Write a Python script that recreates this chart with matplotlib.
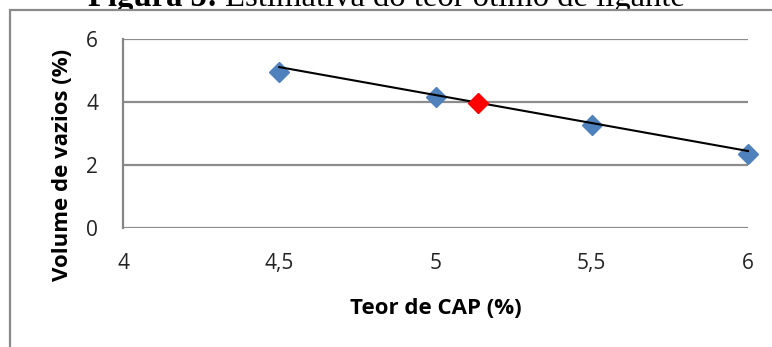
import matplotlib
matplotlib.use("Agg")
import matplotlib.pyplot as plt
from matplotlib.patches import Rectangle

# Data
teor_cap = [4.5, 5.0, 5.5, 6.0]
volume_vazios = [4.94, 4.16, 3.27, 2.35]
otimo_x = [5.135]
otimo_y = [3.97]
trend_x = [4.5, 6.0]
trend_y = [5.11, 2.45]
xticks = [4, 4.5, 5, 5.5, 6]
xtick_labels = ["4", "4,5", "5", "5,5", "6"]
yticks = [0, 2, 4, 6]
ytick_labels = ["0", "2", "4", "6"]

W, H = 772, 347
fig = plt.figure(figsize=(W / 100, H / 100), dpi=100)
fig.patch.set_facecolor("white")

# caption (partly hidden by the chart frame, as in the reference)
fig.text(218 / W, 1 - 6 / H, "Figura 5:", fontfamily="Liberation Serif",
         fontweight="bold", fontsize=23.5, ha="right", va="baseline", zorder=3)
fig.text(225 / W, 1 - 6 / H, "Estimativa do teor ótimo de ligante",
         fontfamily="Liberation Serif", fontsize=23.5, ha="left",
         va="baseline", zorder=3)

# outer chart frame (white, covering the caption bottom; extends beyond edges)
fig.add_artist(Rectangle((10 / W, -0.1), 1.2, 1.1 - 10 / H,
                         transform=fig.transFigure, facecolor="white",
                         edgecolor="#8a8a8a", lw=1.6, clip_on=False, zorder=4))

ax = fig.add_axes([123 / W, 1 - 228.3 / H, (748 - 123) / W, (228.3 - 39) / H])
ax.set_zorder(5)
ax.set_xlim(4, 6)
ax.set_ylim(0, 6)
for s in ["top", "right", "bottom"]:
    ax.spines[s].set_visible(False)
ax.spines["left"].set_color("#868686")
ax.spines["left"].set_linewidth(1.6)
ax.yaxis.grid(True, color="#8c8c8c", lw=1.6)
ax.set_axisbelow(True)
ax.tick_params(length=0, labelsize=15, colors="#222222")
ax.set_xticks(xticks)
ax.set_xticklabels(xtick_labels, fontfamily="Open Sans")
ax.set_yticks(yticks)
ax.set_yticklabels(ytick_labels, fontfamily="Open Sans")
ax.tick_params(axis="x", pad=18)
ax.tick_params(axis="y", pad=18)

ax.plot(teor_cap, volume_vazios, linestyle="none", marker="D", ms=10,
        color="#4f81bd", clip_on=False, zorder=3)
ax.plot(trend_x, trend_y, color="black", lw=1.5, zorder=4, clip_on=False)
ax.plot(otimo_x, otimo_y, linestyle="none", marker="D", ms=10,
        color="#ff0000", clip_on=False, zorder=5)

ax.set_xlabel("Teor de CAP (%)", fontfamily="Open Sans", fontweight="bold",
              fontsize=16, labelpad=17)
ax.set_ylabel("Volume de vazios (%)", fontfamily="Open Sans", fontweight="bold",
              fontsize=16)
ax.yaxis.set_label_coords((62 - 123) / 625, (228.3 - 165) / 189.3)
ax.yaxis.label.set_verticalalignment("center")

fig.savefig("out.png", dpi=100)
